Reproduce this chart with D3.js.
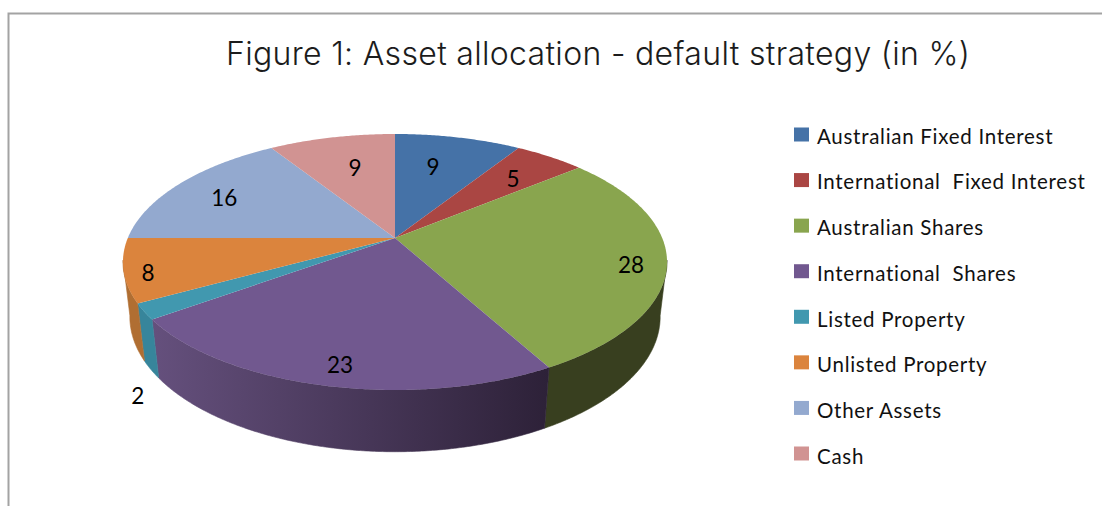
<!DOCTYPE html>
<html><head><meta charset="utf-8">
<script src="https://cdn.jsdelivr.net/npm/d3@7/dist/d3.min.js"></script>
<style>html,body{margin:0;padding:0;background:#fff}svg{display:block}</style>
</head><body><svg id="c" width="1102" height="506"></svg>
<script>
const categories = ["Australian Fixed Interest","International  Fixed Interest","Australian Shares","International  Shares","Listed Property","Unlisted Property","Other Assets","Cash"];
const values = [9,5,28,23,2,8,16,9];
const faceColors = ["#4572A7","#AA4643","#89A54E","#71588F","#4198AF","#DB843D","#93A9CF","#D19392"];
const sideLeft  = ["#2f4a6e","#6e2e2c","#383f1f","#65507d","#37859b","#b06e32","#5f6e86","#886060"];
const sideRight = ["#2f4a6e","#6e2e2c","#383f1f","#2d2138","#37859b","#b06e32","#5f6e86","#886060"];
const labelRadius = [.664,.715,.874,.879,1.288,.917,.763,.656];
const labelShift = [-2.3,1.3,3.1,-1.3,-20.5,-2.2,-1.9,1.4];
const title = "Figure 1: Asset allocation - default strategy (in %)";

const svg = d3.select("#c");
const defs = svg.append("defs");
const font = "Lato, 'Open Sans', sans-serif";

// frame (top and left edges only: the reference is cropped)
svg.append("path").attr("d","M8.5,506V13.5H1102").attr("fill","none").attr("stroke","#a3a3a3").attr("stroke-width",2);

svg.append("text").attr("x",226).attr("y",65).attr("font-family","Inter, Lato, sans-serif").attr("font-weight",300)
  .attr("font-size",32).attr("fill","#1c1c1c").attr("textLength",744).attr("lengthAdjust","spacing")
  .style("font-variant-ligatures","none").text(title);

// projection of the pie disc: perspective from unit disc to screen
const cx=395, cy=238, c=267.2, b=123.5, k=0.1875, d=55.5, e=0.025;
function project(X,Y,z){
  const w = 1-k*Y+e*z;
  return [cx+c*X/w, cy+(b*Y+d*z)/w];
}
const polar=(deg,r,z)=>{const a=deg*Math.PI/180;return project(r*Math.sin(a),-r*Math.cos(a),z);};
const deg=d3.scaleLinear().domain([0,2*Math.PI]).range([0,360]);

const arcs = d3.pie().sort(null).value(v=>v).startAngle(0).endAngle(2*Math.PI)(values);
const line = d3.line();
const STEP = 0.5;
// angles where the rim of the disc is tangent to the line of sight
const WALL_FROM = 100, WALL_TO = 260;
const sweep=(a0,a1)=>d3.range(a0,a1,STEP).concat([a1]);

// side wall: one shape per slice, only where it faces the viewer
const walls = arcs.map((p,i)=>{
  const a0=Math.max(deg(p.startAngle),WALL_FROM), a1=Math.min(deg(p.endAngle),WALL_TO);
  return {i,a0,a1};
}).filter(w=>w.a1>w.a0);
walls.forEach(w=>{
  const xs=[polar(w.a0,1,0)[0],polar(w.a1,1,0)[0]];
  const g=defs.append("linearGradient").attr("id","wall"+w.i).attr("gradientUnits","userSpaceOnUse")
    .attr("x1",d3.min(xs)).attr("x2",d3.max(xs)).attr("y1",0).attr("y2",0);
  g.append("stop").attr("offset",0).attr("stop-color",sideLeft[w.i]);
  g.append("stop").attr("offset",1).attr("stop-color",sideRight[w.i]);
});
svg.append("g").selectAll("path").data(walls).join("path")
  .attr("d",w=>{
    const ts=sweep(w.a0,w.a1);
    return line(ts.map(t=>polar(t,1,0)).concat(ts.slice().reverse().map(t=>polar(t,1,1))))+"Z";
  })
  .attr("fill",w=>`url(#wall${w.i})`)
  .attr("stroke",w=>`url(#wall${w.i})`).attr("stroke-width",0.6);

// top face
svg.append("g").selectAll("path").data(arcs).join("path")
  .attr("d",p=>{
    const pts=[project(0,0,0)].concat(sweep(deg(p.startAngle),deg(p.endAngle)).map(t=>polar(t,1,0)));
    return line(pts)+"Z";
  })
  .attr("fill",(p,i)=>faceColors[i]);

// data labels
svg.append("g").selectAll("text").data(arcs).join("text")
  .attr("font-family",font).attr("font-size",22.5).attr("fill","#000")
  .attr("text-anchor","middle").attr("dominant-baseline","central")
  .attr("transform",(p,i)=>{
    const mid=deg((p.startAngle+p.endAngle)/2)+labelShift[i];
    return "translate("+polar(mid,labelRadius[i],0)+")";
  })
  .text(p=>p.value);

// legend
const rowY=d3.scalePoint().domain(categories).range([134.5,453.5]);
const textY=d3.scalePoint().domain(categories).range([143.5,464]);
const lg=svg.append("g").selectAll("g").data(categories).join("g");
lg.append("rect").attr("x",794).attr("y",n=>rowY(n)-7).attr("width",15).attr("height",14)
  .attr("fill",(n,i)=>faceColors[i]);
lg.append("text").attr("x",817).attr("y",n=>textY(n)).attr("letter-spacing",0.72)
  .attr("font-family",font).attr("font-size",20.5).attr("fill","#111")
  .style("font-variant-ligatures","none").style("white-space","pre").text(n=>n);
</script></body></html>
